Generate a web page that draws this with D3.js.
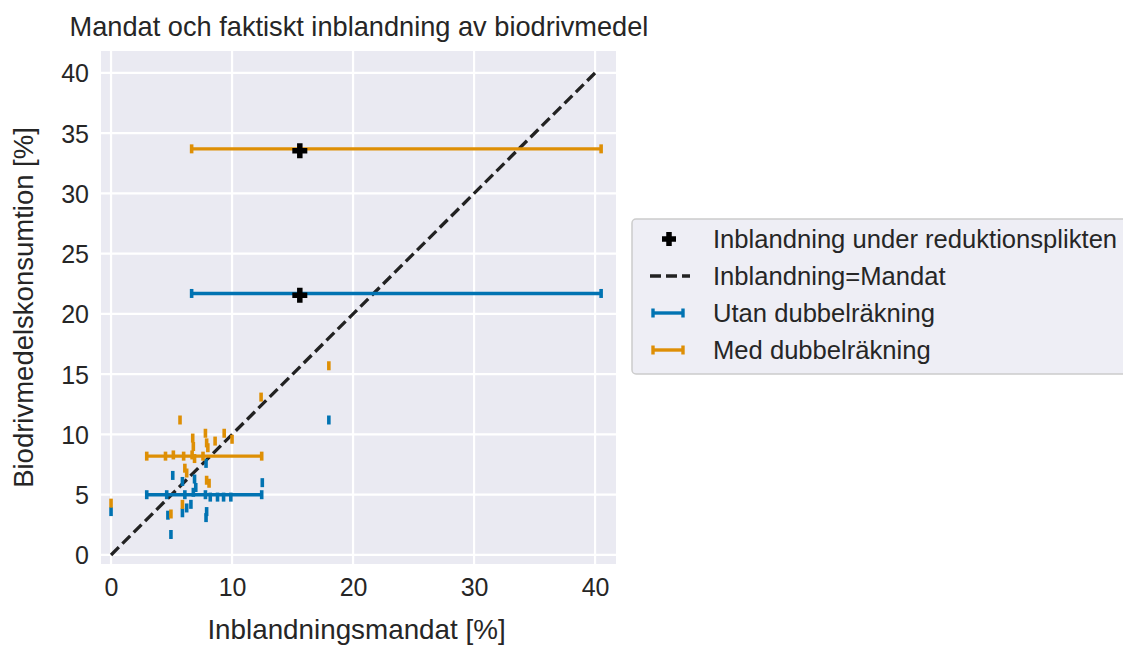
<!DOCTYPE html>
<html>
<head>
<meta charset="utf-8">
<script src="https://cdn.jsdelivr.net/npm/d3@7/dist/d3.min.js"></script>
<style>
  body { margin: 0; background: #fff; }
  svg { font-family: "Liberation Sans", Arial, sans-serif; }
</style>
</head>
<body>
<svg id="chart_inblandning" width="1123" height="645"></svg>
<script>
const x_ticks = [0, 10, 20, 30, 40];
const y_ticks = [0, 5, 10, 15, 20, 25, 30, 35, 40];

// Utan dubbelräkning, one entry per land: mandat [%], konsumtion [%]
const utan_x = [0, 5.1, 5.9, 6.9, 7.0, 7.85, 12.5, 6.6, 6.25, 5.9, 4.7, 7.85, 4.95, 18.0,
  4.6, 6.1, 6.8, 7.8, 8.2, 8.8, 9.3, 9.9, 7.9];
const utan_y = [3.6, 6.6, 6.1, 6.3, 5.6, 7.6, 6.0, 4.2, 3.9, 3.5, 3.3, 3.1, 1.7, 11.2,
  5.0, 5.0, 5.2, 5.0, 4.8, 4.8, 4.8, 4.8, 3.6];

// Med dubbelräkning
const med_x = [0, 12.4, 5.7, 7.8, 9.35, 6.75, 8.6, 10.0, 8.0, 7.9, 6.8, 6.1, 6.25, 7.9, 8.1,
  5.9, 4.95, 18.0, 4.5, 5.15, 6.0, 6.7, 6.9, 7.6];
const med_y = [4.3, 13.1, 11.2, 10.1, 10.1, 9.7, 9.45, 9.6, 8.9, 9.3, 9.0, 7.2, 6.8, 6.2, 5.95,
  4.2, 3.4, 15.7, 8.2, 8.3, 8.2, 8.3, 8.0, 8.2];

// spans of mandat (EU-snitt and reduktionsplikt)
const utan_span_lo = [2.95, 6.66];
const utan_span_hi = [12.45, 40.5];
const utan_span_y = [5.0, 21.7];
const med_span_lo = [2.95, 6.66];
const med_span_hi = [12.45, 40.5];
const med_span_y = [8.2, 33.7];

// Inblandning under reduktionsplikten
const plikt_x = [15.6, 15.6];
const plikt_y = [21.55, 33.55];

const diag_line = [0, 40];

const col_utan = "#0173b2";
const col_med = "#de8f05";
const text_col = "#262626";

const svg = d3.select("svg#chart_inblandning");

const plot = { left: 101, top: 51, width: 515, height: 513 };

let scale_x = d3.scaleLinear().domain([-0.83, 41.73]).range([plot.left, plot.left + plot.width]);
let scale_y = d3.scaleLinear().domain([-0.75, 41.82]).range([plot.top + plot.height, plot.top]);

svg.append("rect")
  .attr("x", plot.left).attr("y", plot.top)
  .attr("width", plot.width).attr("height", plot.height)
  .attr("fill", "#eaeaf2");

// grid
let g_grid = svg.append("g").attr("stroke", "#fff").attr("stroke-width", 2.2);
g_grid.selectAll("line.gx").data(x_ticks).enter().append("line")
  .attr("x1", (d) => scale_x(d)).attr("x2", (d) => scale_x(d))
  .attr("y1", plot.top).attr("y2", plot.top + plot.height);
g_grid.selectAll("line.gy").data(y_ticks).enter().append("line")
  .attr("y1", (d) => scale_y(d)).attr("y2", (d) => scale_y(d))
  .attr("x1", plot.left).attr("x2", plot.left + plot.width);

// axes, seaborn darkgrid style: no domain, no tick marks
let axis_x = d3.axisBottom(scale_x).tickValues(x_ticks).tickSize(0).tickPadding(14);
let axis_y = d3.axisLeft(scale_y).tickValues(y_ticks).tickSize(0).tickPadding(12);

let g_ax = svg.append("g").attr("transform", `translate(0,${plot.top + plot.height})`).call(axis_x);
let g_ay = svg.append("g").attr("transform", `translate(${plot.left},0)`).call(axis_y);
[g_ax, g_ay].forEach((g) => {
  g.select(".domain").remove();
  g.selectAll("text").attr("font-size", 25).attr("fill", text_col).attr("font-family", null);
});
g_ay.selectAll("text").attr("dy", "0.36em");

// diagonal
svg.append("line")
  .attr("x1", scale_x(diag_line[0])).attr("y1", scale_y(diag_line[0]))
  .attr("x2", scale_x(diag_line[1])).attr("y2", scale_y(diag_line[1]))
  .attr("stroke", "#222").attr("stroke-width", 3.3)
  .attr("stroke-dasharray", "11,5");

const cap_h = 9;

function draw_series(xs, ys, lo, hi, sy, color) {
  let g = svg.append("g").attr("stroke", color);
  let spans = lo.map((d, i) => ({ lo: d, hi: hi[i], y: sy[i] }));
  g.selectAll("line.span").data(spans).enter().append("line")
    .attr("stroke-width", 3.4)
    .attr("x1", (d) => scale_x(d.lo)).attr("x2", (d) => scale_x(d.hi))
    .attr("y1", (d) => scale_y(d.y)).attr("y2", (d) => scale_y(d.y));
  let caps = [];
  spans.forEach((d) => { caps.push({ x: d.lo, y: d.y }); caps.push({ x: d.hi, y: d.y }); });
  xs.forEach((d, i) => caps.push({ x: d, y: ys[i] }));
  g.selectAll("line.cap").data(caps).enter().append("line")
    .attr("stroke-width", 3.6)
    .attr("x1", (d) => scale_x(d.x)).attr("x2", (d) => scale_x(d.x))
    .attr("y1", (d) => scale_y(d.y) - cap_h / 2).attr("y2", (d) => scale_y(d.y) + cap_h / 2);
}

draw_series(utan_x, utan_y, utan_span_lo, utan_span_hi, utan_span_y, col_utan);
draw_series(med_x, med_y, med_span_lo, med_span_hi, med_span_y, col_med);

// filled plus marker ('P')
const plus_path = (cx, cy, s, w) =>
  `M${cx - w / 2},${cy - s / 2}h${w}v${(s - w) / 2}h${(s - w) / 2}v${w}h${-(s - w) / 2}v${(s - w) / 2}h${-w}v${-(s - w) / 2}h${-(s - w) / 2}v${-w}h${(s - w) / 2}z`;

svg.append("g").selectAll("path").data(plikt_x).enter().append("path")
  .attr("d", (d, i) => plus_path(scale_x(d), scale_y(plikt_y[i]), 15, 5.5))
  .attr("fill", "#000");

// titles
svg.append("text").attr("x", (plot.left + plot.left + plot.width) / 2 + 0.5).attr("y", 36)
  .attr("text-anchor", "middle").attr("font-size", 27.2).attr("fill", text_col)
  .text("Mandat och faktiskt inblandning av biodrivmedel");
svg.append("text").attr("x", plot.left + plot.width / 2 - 2).attr("y", 639)
  .attr("text-anchor", "middle").attr("font-size", 27.8).attr("fill", text_col)
  .text("Inblandningsmandat [%]");
svg.append("text")
  .attr("transform", `translate(33,${plot.top + plot.height / 2}) rotate(-90)`)
  .attr("text-anchor", "middle").attr("font-size", 27.5).attr("fill", text_col)
  .text("Biodrivmedelskonsumtion [%]");

// legend
let g_leg = svg.append("g");
g_leg.append("rect")
  .attr("x", 632).attr("y", 219).attr("width", 520).attr("height", 155).attr("rx", 4)
  .attr("fill", "#eaeaf2").attr("fill-opacity", 0.8)
  .attr("stroke", "#cccccc").attr("stroke-width", 1.5);

const leg_labels = ["Inblandning under reduktionsplikten", "Inblandning=Mandat", "Utan dubbelräkning", "Med dubbelräkning"];
const leg_y = [239, 276, 313, 350];

g_leg.append("path").attr("d", plus_path(669, leg_y[0], 14, 5.5)).attr("fill", "#000");
g_leg.append("line").attr("x1", 650).attr("x2", 690).attr("y1", leg_y[1]).attr("y2", leg_y[1])
  .attr("stroke", "#222").attr("stroke-width", 3.3).attr("stroke-dasharray", "11,5");
[col_utan, col_med].forEach((c, i) => {
  let y = leg_y[i + 2];
  let g = g_leg.append("g").attr("stroke", c).attr("stroke-width", 3.4);
  g.append("line").attr("x1", 653).attr("x2", 683).attr("y1", y).attr("y2", y);
  g.append("line").attr("x1", 653).attr("x2", 653).attr("y1", y - cap_h / 2).attr("y2", y + cap_h / 2);
  g.append("line").attr("x1", 683).attr("x2", 683).attr("y1", y - cap_h / 2).attr("y2", y + cap_h / 2);
});
g_leg.selectAll("text").data(leg_labels).enter().append("text")
  .attr("x", 713).attr("y", (d, i) => leg_y[i]).attr("dy", "0.35em")
  .attr("font-size", 25.6).attr("fill", text_col)
  .text((d) => d);
</script>
</body>
</html>
